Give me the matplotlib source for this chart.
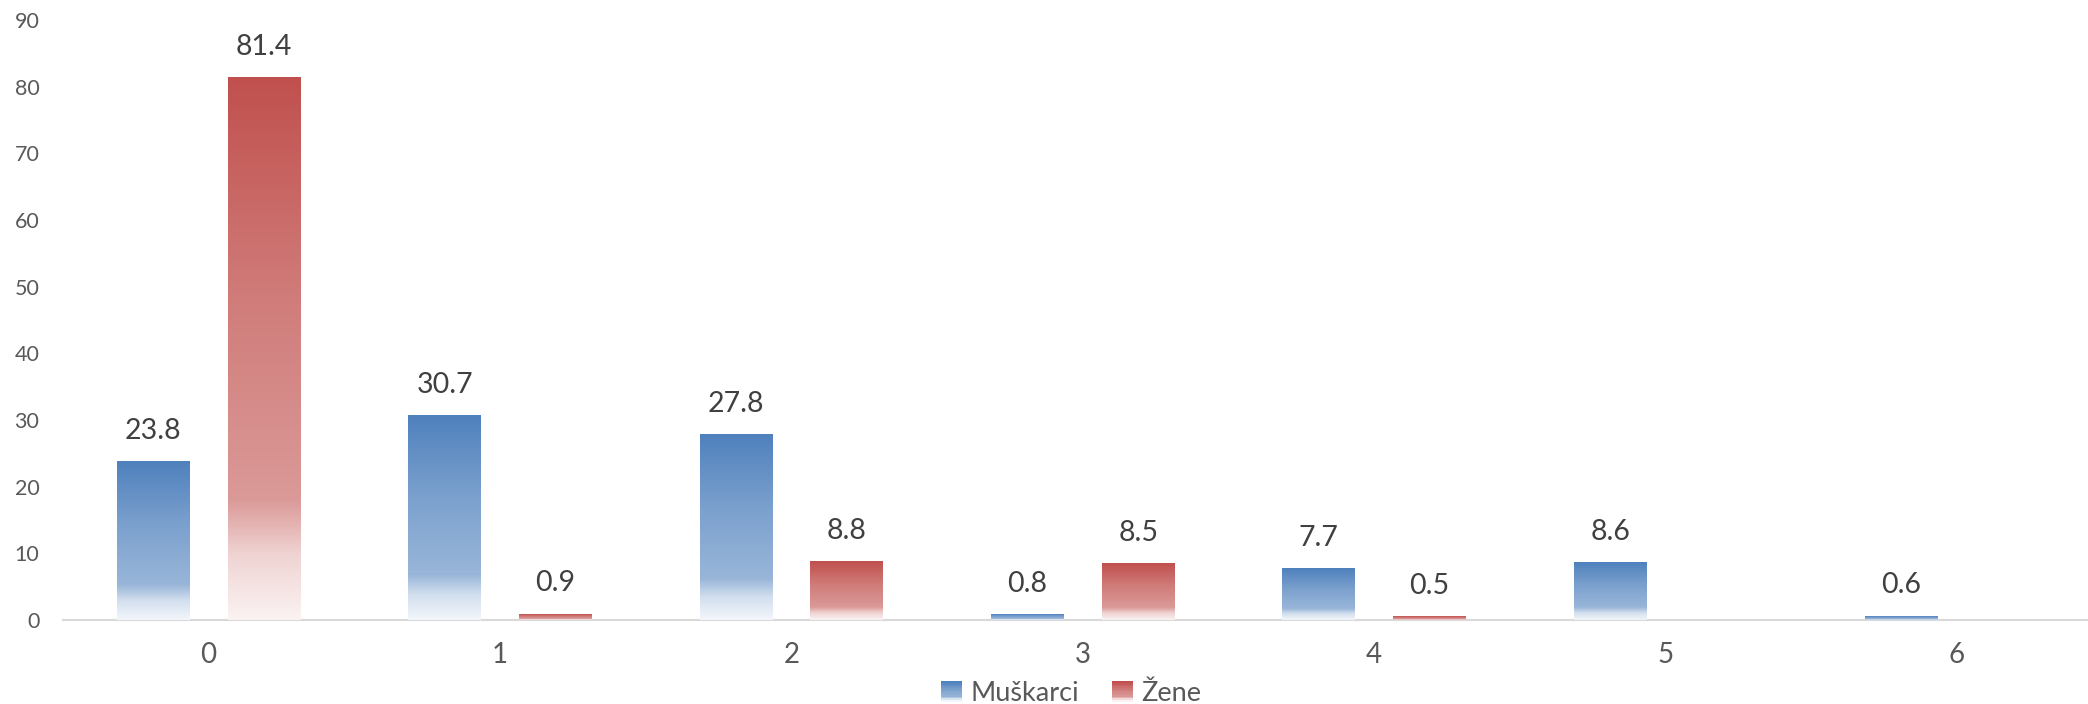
import numpy as np
import matplotlib.pyplot as plt
from matplotlib.colors import LinearSegmentedColormap, to_rgb
from matplotlib.patches import Rectangle
from matplotlib.legend_handler import HandlerBase

plt.rcParams['font.family'] = ['Lato', 'DejaVu Sans']

CATEGORIES = ["0", "1", "2", "3", "4", "5", "6"]
MUSKARCI = [23.8, 30.7, 27.8, 0.8, 7.7, 8.6, 0.6]
ZENE = [81.4, 0.9, 8.8, 8.5, 0.5, np.nan, np.nan]
SERIES_NAMES = ["Muškarci", "Žene"]
BLUE = "#4F81BD"
RED = "#C0504D"


def blend(c, t):
    r = np.array(to_rgb(c))
    return tuple(r + (1 - r) * t)


def gradient_cmap(c):
    # 0 = bottom of bar, 1 = top
    return LinearSegmentedColormap.from_list(
        "g", [(0.0, blend(c, 0.93)), (0.12, blend(c, 0.75)), (0.22, blend(c, 0.42)),
              (0.6, blend(c, 0.25)), (1.0, blend(c, 0.0))])


class GradientHandler(HandlerBase):
    def __init__(self, color):
        super().__init__()
        self.cmap = gradient_cmap(color)

    def create_artists(self, legend, orig_handle, xd, yd, w, h, fontsize, trans):
        n = 12
        s = h * 1.1
        x0 = xd + (w - s) / 2
        arts = []
        for i in range(n):
            arts.append(Rectangle((x0, yd + s * i / n - (s - h) / 2), s, s / n + 0.2,
                                  facecolor=self.cmap(i / (n - 1)), edgecolor="none",
                                  transform=trans))
        return arts


fig = plt.figure(figsize=(20.88, 7.04), dpi=100)
ax = fig.add_axes([63 / 2088, 84 / 704, 1 - 63 / 2088, 600 / 704])

x = np.arange(len(CATEGORIES))
w = 0.25
off = 0.19
for vals, color, sign in [(MUSKARCI, BLUE, -1), (ZENE, RED, 1)]:
    bars = ax.bar(x + sign * off, np.nan_to_num(vals), w, color="none", edgecolor="none")
    cmap = gradient_cmap(color)
    grad = np.linspace(1, 0, 256).reshape(-1, 1)
    for rect, v in zip(bars, vals):
        if np.isnan(v):
            continue
        x0 = rect.get_x()
        ax.imshow(grad, extent=[x0, x0 + rect.get_width(), 0, v], aspect="auto",
                  cmap=cmap, vmin=0, vmax=1, zorder=2, interpolation="bilinear")
        ax.annotate(f"{v:.1f}", (rect.get_x() + rect.get_width() / 2, v),
                    xytext=(0, 22), textcoords="offset points", ha="center", va="center",
                    fontsize=20.5, color="#404040")

ax.set_xlim(-0.5, 6.45)
ax.set_ylim(0, 90)
ax.set_yticks(range(0, 91, 10))
ax.set_xticks(x)
ax.set_xticklabels(CATEGORIES)
ax.tick_params(axis="y", length=0, pad=17, labelsize=15.5, labelcolor="#595959")
ax.tick_params(axis="x", length=0, pad=16, labelsize=20, labelcolor="#595959")
for s in ["left", "right", "top"]:
    ax.spines[s].set_visible(False)
ax.spines["bottom"].set_color("#D9D9D9")
ax.spines["bottom"].set_linewidth(1.5)
ax.spines["bottom"].set_zorder(1)

h1 = Rectangle((0, 0), 1, 1)
h2 = Rectangle((0, 0), 1, 1)
fig.legend([h1, h2], SERIES_NAMES, loc="center", bbox_to_anchor=(0.513, 0.015),
           ncol=2, frameon=False, fontsize=19.5, labelcolor="#595959",
           handler_map={h1: GradientHandler(BLUE), h2: GradientHandler(RED)},
           handlelength=0.8, handletextpad=0.3, columnspacing=1.2)

fig.savefig("out.png", dpi=100)
